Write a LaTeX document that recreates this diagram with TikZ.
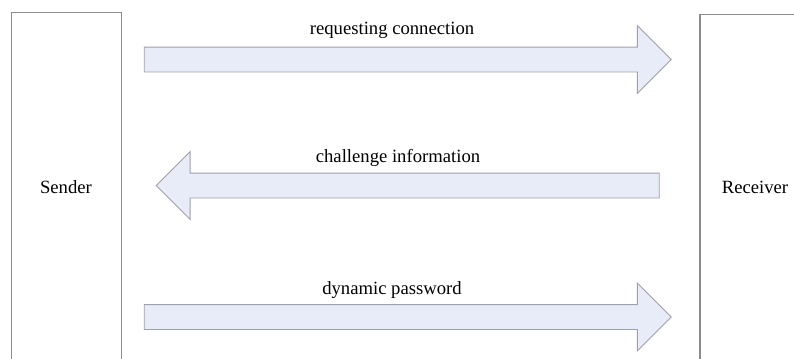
\documentclass[tikz,border=0pt]{standalone}
\usepackage{fontspec}
\setmainfont{Liberation Serif}
\usetikzlibrary{positioning,shapes.arrows}
\definecolor{arrowfill}{RGB}{232,236,248}
\definecolor{arrowline}{RGB}{160,160,170}
\definecolor{boxline}{RGB}{140,140,140}

\begin{document}
\begin{tikzpicture}[x=0.75pt,y=-0.75pt,
    party/.style={draw=boxline,line width=0.9pt},
    msgarrow/.style={single arrow,fill=arrowfill,draw=arrowline,line width=0.7pt,
      inner sep=0pt,outer sep=0pt,minimum width=18pt,text height=0pt,text depth=0pt,
      inner ysep=9pt,single arrow head extend=16.1pt,single arrow tip angle=90},
    msg/.style={font=\fontsize{14}{16}\selectfont,inner sep=0pt}]
  \clip (0,0) rectangle (794,358);
  % sender and receiver
  \draw[party] (11.5,365) -- (11.5,12.5) -- (121.5,12.5) -- (121.5,365);
  \draw[party] (700,365) -- (700,14.5) -- (800,14.5);
  \node[msg] (sender) at (66,187) {Sender};
  \node[msg] (receiver) at (755,187) {Receiver};
  % messages
  \node[msgarrow,minimum height=395.25pt] (req) at (401.5,59.5) {};
  \node[msgarrow,minimum height=377.25pt,shape border rotate=180] (chal) at (414,185.5) {};
  \node[msgarrow,minimum height=395.25pt] (pwd) at (401.5,317) {};
  \node[msg] (reqtext) at (392,30.5) {requesting connection};
  \node[msg] (chaltext) at (398,157.5) {challenge information};
  \node[msg] (pwdtext) at (392,290) {dynamic password};
\end{tikzpicture}
\end{document}
